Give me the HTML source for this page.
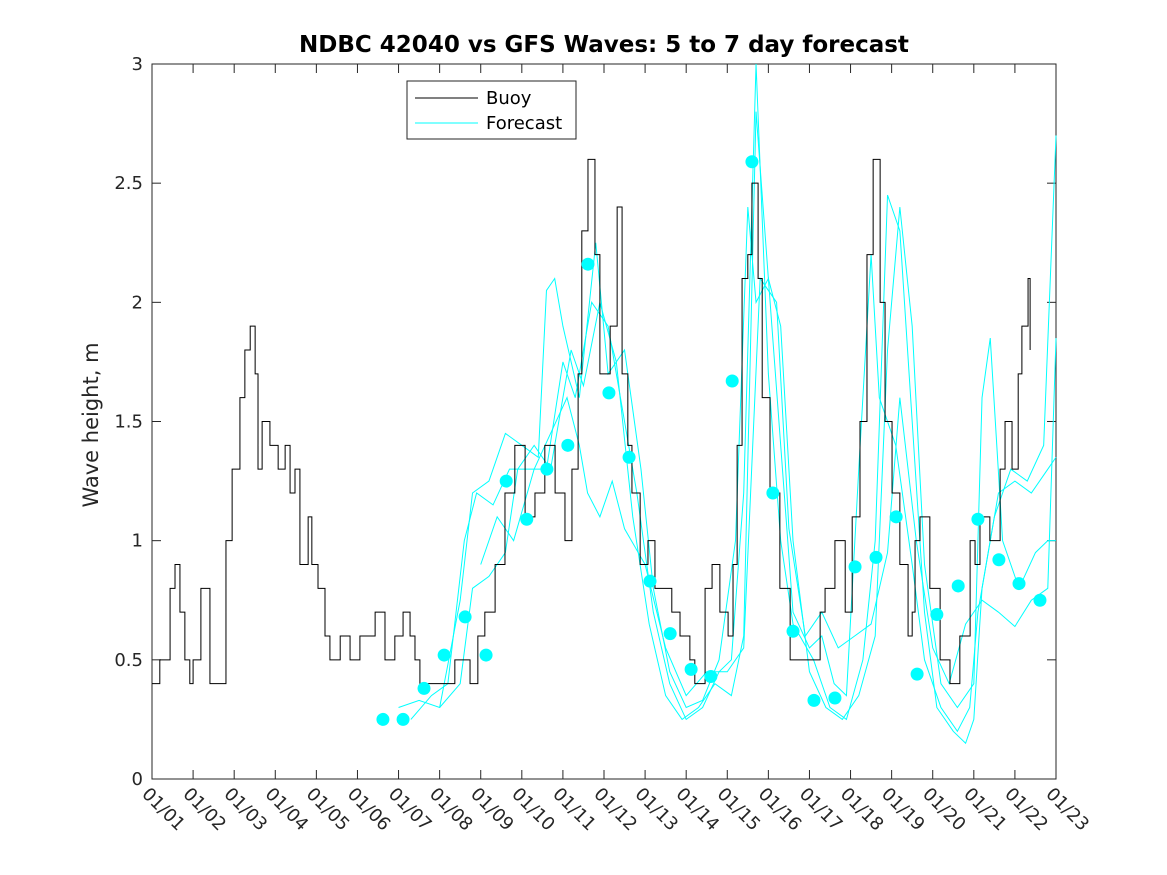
<!DOCTYPE html>
<html><head><meta charset="utf-8"><style>body{margin:0;background:#fff}svg{display:block;font-family:"DejaVu Sans","Liberation Sans",sans-serif}</style></head>
<body>
<svg id="chart" width="1167" height="875" viewBox="0 0 1167 875">
<rect width="1167" height="875" fill="#fff"/>
<text x="604" y="52" text-anchor="middle" font-size="23" font-weight="bold" fill="#000">NDBC 42040 vs GFS Waves: 5 to 7 day forecast</text>
<text transform="translate(98,425) rotate(-90)" text-anchor="middle" font-size="21" fill="#262626">Wave height, m</text>
<g id="axes"></g>
<g id="plot"></g>
<g>
<rect x="407" y="81" width="169" height="58" fill="#fff" stroke="#262626" stroke-width="1"/>
<line x1="415" y1="98" x2="478" y2="98" stroke="#000"/>
<text x="486" y="104" font-size="18" fill="#000">Buoy</text>
<line x1="415" y1="123" x2="478" y2="123" stroke="#0ff"/>
<text x="486" y="129" font-size="18" fill="#000">Forecast</text>
</g>
</svg>
<script>
const xTickLabels=["01/01","01/02","01/03","01/04","01/05","01/06","01/07","01/08","01/09","01/10","01/11","01/12","01/13","01/14","01/15","01/16","01/17","01/18","01/19","01/20","01/21","01/22","01/23"];
const yTicks=[0,0.5,1,1.5,2,2.5,3];
const yTickLabels=["0","0.5","1","1.5","2","2.5","3"];
const buoyDays=[0,.19,.44,.56,.68,.8,.92,1.0,1.19,1.41,1.65,1.8,1.95,2.14,2.26,2.39,2.51,2.58,2.68,2.87,3.07,3.24,3.36,3.48,3.6,3.8,3.89,4.04,4.21,4.33,4.58,4.82,5.06,5.31,5.43,5.67,5.91,6.11,6.28,6.4,6.52,7.13,7.37,7.74,7.93,8.1,8.35,8.59,8.83,9.08,9.32,9.56,9.81,10.05,10.22,10.37,10.46,10.61,10.78,10.9,11.15,11.32,11.44,11.58,11.68,11.88,12.07,12.24,12.48,12.65,12.85,13.09,13.21,13.46,13.63,13.82,14.02,14.14,14.24,14.36,14.5,14.6,14.75,14.85,15.04,15.28,15.53,15.77,16.01,16.26,16.38,16.62,16.87,17.04,17.23,17.4,17.55,17.72,17.84,18.01,18.2,18.4,18.5,18.57,18.69,18.93,19.18,19.42,19.66,19.91,20.03,20.15,20.39,20.64,20.76,20.93,21.08,21.17,21.32,21.37];
const buoyValues=[0.4,0.5,0.8,0.9,0.7,0.5,0.4,0.5,0.8,0.4,0.4,1.0,1.3,1.6,1.8,1.9,1.7,1.3,1.5,1.4,1.3,1.4,1.2,1.3,0.9,1.1,0.9,0.8,0.6,0.5,0.6,0.5,0.6,0.6,0.7,0.5,0.6,0.7,0.6,0.5,0.4,0.4,0.5,0.4,0.6,0.7,0.9,1.2,1.4,1.1,1.2,1.4,1.2,1.0,1.3,1.7,2.3,2.6,2.2,1.7,1.9,2.4,1.7,1.4,1.2,0.9,1.0,0.8,0.8,0.7,0.6,0.5,0.4,0.8,0.9,0.7,0.6,0.9,1.4,2.1,2.2,2.5,2.1,1.6,1.2,0.8,0.5,0.5,0.5,0.7,0.8,1.0,0.7,1.1,1.5,2.2,2.6,2.0,1.5,1.2,0.9,0.6,0.7,1.0,1.1,0.8,0.5,0.4,0.6,1.0,0.9,1.1,1.0,1.3,1.5,1.3,1.7,1.9,2.1,1.8,2.0];
const dotDays=[5.62,6.11,6.62,7.11,7.62,8.13,8.62,9.12,9.61,10.12,10.61,11.12,11.61,12.12,12.61,13.12,13.6,14.12,14.6,15.11,15.6,16.11,16.62,17.11,17.62,18.11,18.62,19.1,19.62,20.1,20.61,21.1,21.61];
const dotValues=[0.25,0.25,0.38,0.52,0.68,0.52,1.25,1.09,1.30,1.40,2.16,1.62,1.35,0.83,0.61,0.46,0.43,1.67,2.59,1.20,0.62,0.33,0.34,0.89,0.93,1.10,0.44,0.69,0.81,1.09,0.92,0.82,0.75];
const forecast1=[[6.0,.3],[6.5,.33],[7.0,.3],[7.5,.75],[7.8,1.2],[8.2,1.25],[8.6,1.45],[9.0,1.4],[9.4,1.35],[9.6,2.05],[9.8,2.1],[10.0,1.9],[10.4,1.6],[10.8,2.25],[11.1,1.7],[11.5,1.8],[11.9,1.3],[12.2,0.8],[12.6,0.45],[13.0,0.3],[13.4,0.33],[13.8,0.5],[14.2,1.0],[14.5,2.4],[14.7,2.0],[15.0,2.1],[15.3,1.4],[15.6,0.7],[16.0,0.55],[16.3,0.6],[16.6,0.4],[16.9,0.35],[17.2,1.3],[17.5,2.2],[17.7,1.6],[18.1,1.4],[18.5,0.9],[18.8,0.5],[19.2,0.3],[19.6,0.2],[19.9,0.3],[20.1,0.7],[20.5,1.1],[20.9,1.3],[21.3,1.25],[21.7,1.4],[22,2.7]];
const forecast2=[[6.3,.25],[6.8,.35],[7.2,.4],[7.6,1.0],[7.9,1.2],[8.3,1.15],[8.7,1.3],[9.1,1.3],[9.6,1.3],[10.0,1.75],[10.3,1.6],[10.7,2.0],[11.1,1.9],[11.4,1.6],[11.8,1.2],[12.2,0.7],[12.6,0.4],[13.0,0.25],[13.4,0.3],[13.8,0.45],[14.1,0.5],[14.4,1.2],[14.7,3.0],[15.0,1.7],[15.3,1.0],[15.6,0.65],[16.1,0.5],[16.5,0.3],[16.9,0.25],[17.3,0.5],[17.6,1.0],[17.9,2.45],[18.2,2.3],[18.5,1.5],[18.8,0.7],[19.1,0.3],[19.5,0.2],[19.8,0.15],[20.0,0.25],[20.2,0.8],[20.6,1.2],[21.0,1.25],[21.4,1.2],[21.8,1.3],[22,1.35]];
const forecast3=[[7.0,.3],[7.5,.4],[7.8,0.8],[8.2,0.85],[8.6,0.95],[8.9,1.3],[9.3,1.4],[9.7,1.3],[10.2,1.8],[10.5,1.65],[10.9,2.0],[11.3,1.75],[11.7,1.1],[12.1,0.65],[12.5,0.35],[12.9,0.25],[13.3,0.3],[13.7,0.4],[14.1,0.35],[14.4,0.6],[14.7,2.8],[15.0,2.1],[15.3,1.9],[15.6,1.0],[16.0,0.45],[16.4,0.3],[16.8,0.25],[17.2,0.35],[17.6,0.6],[17.9,1.8],[18.2,2.4],[18.5,1.9],[18.8,0.9],[19.2,0.4],[19.6,0.3],[20.0,0.4],[20.2,1.6],[20.4,1.85],[20.7,1.0],[21.1,0.8],[21.5,0.95],[21.8,1.0],[22,1.0]];
const forecast4=[[8.0,.9],[8.4,1.1],[8.8,1.0],[9.3,1.3],[9.7,1.45],[10.1,1.6],[10.4,1.4],[10.6,1.2],[10.9,1.1],[11.2,1.25],[11.5,1.05],[12,0.9],[12.5,0.55],[13,0.35],[13.5,0.45],[14.0,0.45],[14.4,0.55],[14.8,2.1],[15.2,2.0],[15.5,1.05],[15.9,0.6],[16.3,0.7],[16.7,0.55],[17.1,0.6],[17.5,0.65],[17.9,0.95],[18.2,1.6],[18.6,1.0],[19.0,0.55],[19.4,0.4],[19.8,0.65],[20.2,0.75],[20.6,0.7],[21.0,0.64],[21.4,0.75],[21.8,0.8],[22,1.85]];

const L=152,R=1056,T=64,B=779,NS="http://www.w3.org/2000/svg";
const xs=d=>L+d*(R-L)/22;
const ys=v=>B-v*(B-T)/3;
function mk(tag,attrs,parent){const e=document.createElementNS(NS,tag);for(const k in attrs)e.setAttribute(k,attrs[k]);parent.appendChild(e);return e;}
const axes=document.getElementById('axes'),plot=document.getElementById('plot');
const box=mk('rect',{x:L,y:T,width:R-L,height:B-T,fill:'none',stroke:'#262626','stroke-width':1},axes);


xTickLabels.forEach((lab,i)=>{const x=xs(i);
 const t1=mk('line',{x1:x,y1:B,x2:x,y2:B-9,stroke:'#262626'},axes);
 
 
 const t2=mk('line',{x1:x,y1:T,x2:x,y2:T+9,stroke:'#262626'},axes);
 
 
 const tx=mk('text',{transform:`translate(${x-11},${B+16}) rotate(45)`,'font-size':18,fill:'#262626'},axes);
 tx.textContent=lab;
 
 
});
yTicks.forEach((v,i)=>{const y=ys(v);
 const t1=mk('line',{x1:L,y1:y,x2:L+9,y2:y,stroke:'#262626'},axes);
 
 
 const t2=mk('line',{x1:R,y1:y,x2:R-9,y2:y,stroke:'#262626'},axes);
 
 
 const tx=mk('text',{x:L-9,y:y+6,'text-anchor':'end','font-size':18,fill:'#262626'},axes);
 tx.textContent=yTickLabels[i];
 
 
});
[forecast1,forecast2,forecast3,forecast4].forEach((s,i)=>{
 const p=mk('polyline',{points:s.map(q=>xs(q[0])+','+ys(q[1])).join(' '),fill:'none',stroke:'#0ff','stroke-width':1},plot);
 
 
});
let pts=[];
buoyDays.forEach((d,i)=>{if(i>0)pts.push(xs(d)+','+ys(buoyValues[i-1]));pts.push(xs(d)+','+ys(buoyValues[i]));});
const bl=mk('polyline',{points:pts.join(' '),fill:'none',stroke:'#000','stroke-width':1},plot);


dotDays.forEach((d,i)=>{
 const c=mk('circle',{cx:xs(d),cy:ys(dotValues[i]),r:6.5,fill:'#0ff'},plot);
 
 
});
</script>
</body></html>
